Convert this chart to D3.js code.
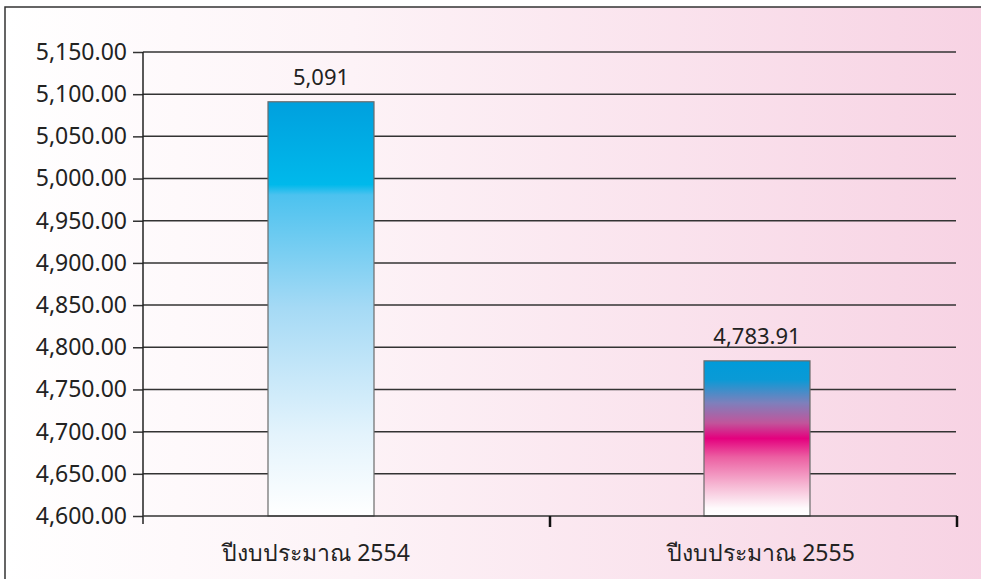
<!DOCTYPE html>
<html><head><meta charset="utf-8">
<script src="https://cdn.jsdelivr.net/npm/d3@7"></script>
<style>
body{margin:0;background:#fff;}
svg{display:block;font-family:"Noto Sans","Open Sans",sans-serif;}
</style></head>
<body><svg id="c" width="981" height="579"></svg>
<script>
const categories = ["ปีงบประมาณ 2554", "ปีงบประมาณ 2555"];
const values = [5091, 4783.91];
const valueLabels = ["5,091", "4,783.91"];
const yTicks = [4600,4650,4700,4750,4800,4850,4900,4950,5000,5050,5100,5150];

const svg = d3.select("#c");
const defs = svg.append("defs");

const bg = defs.append("linearGradient").attr("id","bg").attr("x1","0").attr("x2","1").attr("y1","0").attr("y2","0");
bg.append("stop").attr("offset","0").attr("stop-color","#ffffff");
bg.append("stop").attr("offset","0.35").attr("stop-color","#fdf3f7");
bg.append("stop").attr("offset","1").attr("stop-color","#f7d2e3");

const g1 = defs.append("linearGradient").attr("id","g1").attr("x1","0").attr("x2","0").attr("y1","0").attr("y2","1");
[[0,"#00a0de"],[0.2,"#00b9eb"],[0.225,"#4cc2ef"],[0.5,"#a6daf5"],[0.8,"#e3f3fc"],[1,"#ffffff"]]
  .forEach(s=>g1.append("stop").attr("offset",s[0]).attr("stop-color",s[1]));

const g2 = defs.append("linearGradient").attr("id","g2").attr("x1","0").attr("x2","0").attr("y1","0").attr("y2","1");
[[0,"#009bd9"],[0.12,"#0a9ad6"],[0.27,"#7d80bc"],[0.4,"#c1559b"],[0.5,"#e4007e"],[0.62,"#ec5fa2"],[0.8,"#f6b7d3"],[0.95,"#fefafc"],[1,"#ffffff"]]
  .forEach(s=>g2.append("stop").attr("offset",s[0]).attr("stop-color",s[1]));

// frame/background
svg.append("rect").attr("x",5).attr("y",7).attr("width",990).attr("height",590)
  .attr("fill","url(#bg)").attr("stroke","#333").attr("stroke-width",1.5);

const x0 = 143, x1 = 957, yTop = 52, yBot = 516;
const y = d3.scaleLinear().domain([4600,5150]).range([yBot,yTop]);
const xBand = d3.scaleBand().domain(categories).range([x0,x1]);
const xC = d3.scalePoint().domain(categories).range([321,757]);
const barW = 106;

// gridlines
svg.append("g").selectAll("line").data(yTicks.slice(1)).join("line")
  .attr("x1",x0).attr("x2",x1-1).attr("y1",d=>y(d)).attr("y2",d=>y(d))
  .attr("stroke","#333").attr("stroke-width",1.5);

// y axis
const yAxis = svg.append("g").attr("transform",`translate(${x0},0)`)
  .call(d3.axisLeft(y).tickValues(yTicks).tickSize(10).tickPadding(6).tickFormat(d3.format(",.2f")));
yAxis.select(".domain").remove();
yAxis.selectAll(".tick line").attr("stroke","#333").attr("stroke-width",1.5);
yAxis.selectAll("text").attr("font-size",23).attr("fill","#222").attr("font-family","Noto Sans, sans-serif");
svg.append("line").attr("x1",x0).attr("x2",x0).attr("y1",yTop).attr("y2",yBot+8).attr("stroke","#222").attr("stroke-width",1.5);

// bars
svg.append("g").selectAll("rect").data(values).join("rect")
  .attr("x",(d,i)=>xC(categories[i])-barW/2).attr("width",barW)
  .attr("y",d=>y(d)).attr("height",d=>yBot-y(d))
  .attr("fill",(d,i)=>i===0?"url(#g1)":"url(#g2)")
  .attr("stroke","#6b6b6b").attr("stroke-width",1.2);

// x axis
svg.append("line").attr("x1",x0).attr("x2",x1).attr("y1",yBot).attr("y2",yBot).attr("stroke","#333").attr("stroke-width",1.5);
svg.append("g").selectAll("line").data(categories).join("line")
  .attr("x1",d=>xBand(d)+xBand.bandwidth()).attr("x2",d=>xBand(d)+xBand.bandwidth())
  .attr("y1",yBot).attr("y2",yBot+11).attr("stroke","#111").attr("stroke-width",2.5);

svg.append("g").selectAll("text").data(categories).join("text")
  .attr("x",(d,i)=>xC(d)+(i===0?-5:4)).attr("y",561).attr("text-anchor","middle")
  .attr("font-size",23).attr("fill","#222").text(d=>d);

// value labels
svg.append("g").selectAll("text").data(values).join("text")
  .attr("x",(d,i)=>xC(categories[i])).attr("y",d=>y(d)-17).attr("text-anchor","middle")
  .attr("font-size",22).attr("fill","#222").text((d,i)=>valueLabels[i]);
</script></body></html>
